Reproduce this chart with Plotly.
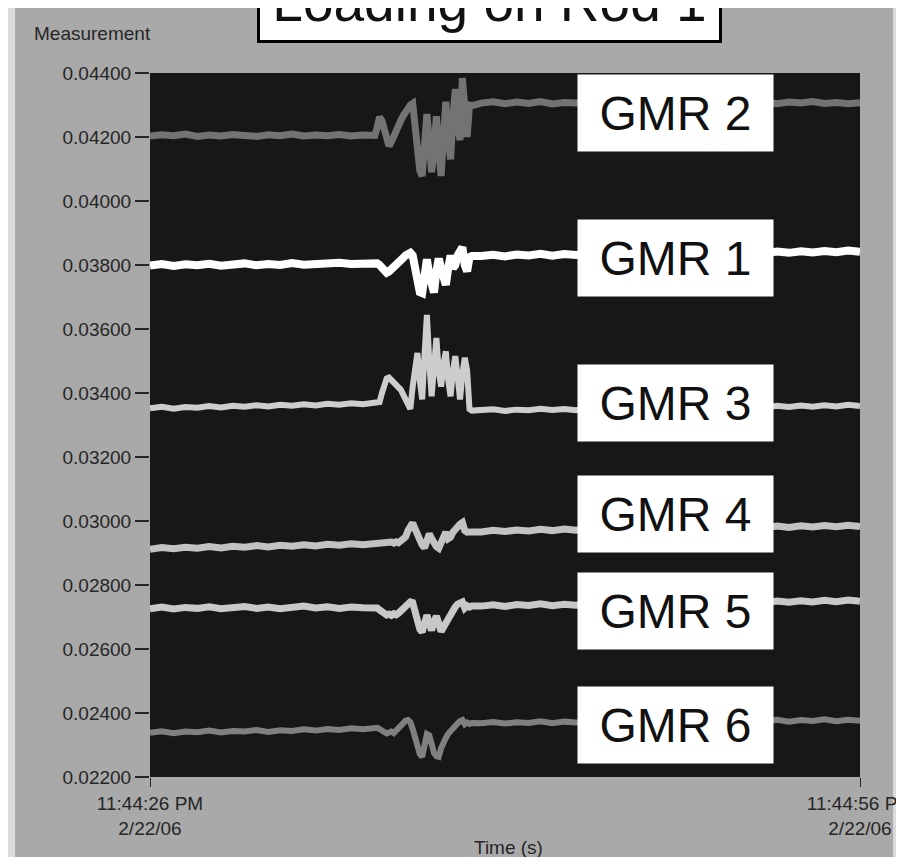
import plotly.graph_objects as go

# ---- time axis (seconds after 11:44:26 PM) ----
t_left = [0.0, 0.5, 1.0, 1.5, 2.0, 2.5, 3.0, 3.5, 4.0, 4.5, 5.0, 5.5, 6.0, 6.5, 7.0, 7.5, 8.0, 8.5, 9.0, 9.5]
t_event = [9.6, 9.7, 9.8, 9.9, 10.0, 10.1, 10.2, 10.3, 10.4, 10.5, 10.6, 10.7, 10.8, 10.9, 11.0,
           11.1, 11.2, 11.3, 11.4, 11.5, 11.6, 11.7, 11.8, 11.9, 12.0, 12.1, 12.2, 12.3, 12.4, 12.5,
           12.6, 12.7, 12.8, 12.9, 13.0, 13.1, 13.2, 13.3, 13.4, 13.5, 13.6]
t_right = [14.0, 14.5, 15.0, 15.5, 16.0, 16.5, 17.0, 17.5, 18.0, 18.5, 19.0, 19.5, 20.0, 20.5, 21.0, 21.5,
           22.0, 22.5, 23.0, 23.5, 24.0, 24.5, 25.0, 25.5, 26.0, 26.5, 27.0, 27.5, 28.0, 28.5, 29.0, 29.5, 30.0]
time_s = t_left + t_event + t_right

x_tick_vals = [0, 30]
x_tick_text = ["11:44:26 PM<br>2/22/06", "11:44:56 PM<br>2/22/06"]
y_tick_vals = [0.022, 0.024, 0.026, 0.028, 0.030, 0.032, 0.034, 0.036, 0.038, 0.040, 0.042, 0.044]
y_tick_text = ["0.02200", "0.02400", "0.02600", "0.02800", "0.03000", "0.03200",
               "0.03400", "0.03600", "0.03800", "0.04000", "0.04200", "0.04400"]

# ---- GMR 2 ----
gmr2_left = [0.04203, 0.04207, 0.04204, 0.04209, 0.04202, 0.04206, 0.04203, 0.04208, 0.04205, 0.04202,
             0.04207, 0.04204, 0.04209, 0.04203, 0.04206, 0.04204, 0.04208, 0.04203, 0.04206, 0.04205]
gmr2_event = [0.04230, 0.04262, 0.04250, 0.04222, 0.04195, 0.04172, 0.04185, 0.04205, 0.04222, 0.04238,
              0.04252, 0.04266, 0.04280, 0.04292, 0.04300, 0.04305, 0.04240, 0.04150, 0.04095, 0.04078,
              0.04180, 0.04272, 0.04190, 0.04090, 0.04160, 0.04265, 0.04160, 0.04078, 0.04200, 0.04310,
              0.04200, 0.04130, 0.04260, 0.04350, 0.04230, 0.04190, 0.04384, 0.04250, 0.04200, 0.04300,
              0.04298]
gmr2_right = [0.04306, 0.04310, 0.04304, 0.04309, 0.04305, 0.04311, 0.04303, 0.04308, 0.04306, 0.04310, 0.04304,
              0.04309, 0.04307, 0.04303, 0.04310, 0.04305, 0.04308, 0.04304, 0.04311, 0.04306, 0.04309, 0.04303,
              0.04308, 0.04305, 0.04310, 0.04304, 0.04309, 0.04306, 0.04311, 0.04305, 0.04308, 0.04304, 0.04307]

# ---- GMR 1 ----
gmr1_left = [0.03798, 0.03803, 0.03797, 0.03802, 0.03799, 0.03804, 0.03798, 0.03801, 0.03805, 0.03799,
             0.03803, 0.03800, 0.03806, 0.03801, 0.03804, 0.03802, 0.03807, 0.03803, 0.03806, 0.03804]
gmr1_event = [0.03805, 0.03800, 0.03790, 0.03778, 0.03776, 0.03780, 0.03786, 0.03792, 0.03800, 0.03808,
              0.03815, 0.03822, 0.03830, 0.03836, 0.03838, 0.03830, 0.03790, 0.03745, 0.03715, 0.03712,
              0.03770, 0.03818, 0.03770, 0.03725, 0.03714, 0.03780, 0.03820, 0.03790, 0.03745, 0.03738,
              0.03790, 0.03830, 0.03790, 0.03800, 0.03830, 0.03845, 0.03855, 0.03800, 0.03780, 0.03825,
              0.03828]
gmr1_right = [0.03828, 0.03832, 0.03827, 0.03833, 0.03830, 0.03835, 0.03829, 0.03834, 0.03831, 0.03836, 0.03830,
              0.03835, 0.03832, 0.03837, 0.03831, 0.03836, 0.03833, 0.03838, 0.03834, 0.03839, 0.03835, 0.03840,
              0.03836, 0.03841, 0.03837, 0.03842, 0.03838, 0.03843, 0.03839, 0.03844, 0.03840, 0.03845, 0.03841]

# ---- GMR 3 ----
gmr3_left = [0.03352, 0.03357, 0.03351, 0.03356, 0.03354, 0.03359, 0.03355, 0.03360, 0.03357, 0.03362,
             0.03358, 0.03363, 0.03360, 0.03365, 0.03361, 0.03366, 0.03363, 0.03368, 0.03365, 0.03369]
gmr3_event = [0.03370, 0.03372, 0.03400, 0.03430, 0.03445, 0.03448, 0.03440, 0.03432, 0.03425, 0.03420,
              0.03410, 0.03395, 0.03380, 0.03365, 0.03350, 0.03420, 0.03480, 0.03525, 0.03440, 0.03380,
              0.03520, 0.03644, 0.03500, 0.03390, 0.03480, 0.03572, 0.03470, 0.03420, 0.03490, 0.03530,
              0.03440, 0.03390, 0.03470, 0.03515, 0.03450, 0.03380, 0.03460, 0.03510, 0.03470, 0.03350,
              0.03345]
gmr3_right = [0.03345, 0.03349, 0.03344, 0.03348, 0.03346, 0.03351, 0.03347, 0.03350, 0.03346, 0.03352, 0.03348,
              0.03353, 0.03349, 0.03354, 0.03350, 0.03355, 0.03351, 0.03356, 0.03352, 0.03357, 0.03353, 0.03358,
              0.03354, 0.03359, 0.03355, 0.03360, 0.03356, 0.03361, 0.03357, 0.03362, 0.03358, 0.03363, 0.03359]

# ---- GMR 4 ----
gmr4_left = [0.02912, 0.02917, 0.02913, 0.02918, 0.02915, 0.02920, 0.02916, 0.02921, 0.02918, 0.02923,
             0.02919, 0.02924, 0.02921, 0.02926, 0.02922, 0.02927, 0.02924, 0.02929, 0.02926, 0.02930]
gmr4_event = [0.02931, 0.02928, 0.02932, 0.02929, 0.02933, 0.02930, 0.02934, 0.02931, 0.02935, 0.02932,
              0.02936, 0.02940, 0.02950, 0.02970, 0.02985, 0.02994, 0.02975, 0.02955, 0.02940, 0.02925,
              0.02916, 0.02935, 0.02960, 0.02945, 0.02930, 0.02920, 0.02915, 0.02935, 0.02955, 0.02965,
              0.02945, 0.02950, 0.02965, 0.02975, 0.02985, 0.02990, 0.02995, 0.02970, 0.02965, 0.02968,
              0.02966]
gmr4_right = [0.02966, 0.02971, 0.02967, 0.02972, 0.02969, 0.02974, 0.02970, 0.02975, 0.02971, 0.02976, 0.02972,
              0.02977, 0.02973, 0.02978, 0.02974, 0.02979, 0.02975, 0.02980, 0.02976, 0.02981, 0.02977, 0.02982,
              0.02978, 0.02983, 0.02979, 0.02984, 0.02980, 0.02985, 0.02981, 0.02986, 0.02982, 0.02987, 0.02983]

# ---- GMR 5 ----
gmr5_left = [0.02726, 0.02731, 0.02725, 0.02730, 0.02727, 0.02732, 0.02726, 0.02729, 0.02733, 0.02727,
             0.02731, 0.02726, 0.02730, 0.02734, 0.02728, 0.02732, 0.02727, 0.02731, 0.02729, 0.02730]
gmr5_event = [0.02728, 0.02722, 0.02715, 0.02708, 0.02706, 0.02709, 0.02705, 0.02710, 0.02707, 0.02712,
              0.02720, 0.02730, 0.02738, 0.02744, 0.02747, 0.02745, 0.02715, 0.02685, 0.02662, 0.02653,
              0.02680, 0.02706, 0.02680, 0.02658, 0.02685, 0.02703, 0.02680, 0.02655, 0.02668, 0.02682,
              0.02695, 0.02708, 0.02720, 0.02732, 0.02740, 0.02746, 0.02747, 0.02728, 0.02735, 0.02731,
              0.02734]
gmr5_right = [0.02734, 0.02738, 0.02733, 0.02739, 0.02736, 0.02741, 0.02735, 0.02740, 0.02737, 0.02742, 0.02738,
              0.02743, 0.02739, 0.02744, 0.02740, 0.02745, 0.02741, 0.02746, 0.02742, 0.02747, 0.02743, 0.02748,
              0.02744, 0.02749, 0.02745, 0.02750, 0.02746, 0.02751, 0.02747, 0.02752, 0.02748, 0.02753, 0.02749]

# ---- GMR 6 ----
gmr6_left = [0.02338, 0.02343, 0.02337, 0.02342, 0.02340, 0.02345, 0.02339, 0.02344, 0.02342, 0.02347,
             0.02341, 0.02346, 0.02344, 0.02349, 0.02345, 0.02350, 0.02347, 0.02352, 0.02349, 0.02353]
gmr6_event = [0.02354, 0.02350, 0.02344, 0.02338, 0.02336, 0.02339, 0.02342, 0.02337, 0.02345, 0.02355,
              0.02362, 0.02370, 0.02376, 0.02378, 0.02372, 0.02350, 0.02320, 0.02292, 0.02272, 0.02263,
              0.02300, 0.02334, 0.02330, 0.02300, 0.02275, 0.02265, 0.02263, 0.02290, 0.02310, 0.02322,
              0.02335, 0.02345, 0.02352, 0.02360, 0.02368, 0.02375, 0.02378, 0.02365, 0.02370, 0.02366,
              0.02369]
gmr6_right = [0.02368, 0.02372, 0.02367, 0.02371, 0.02369, 0.02374, 0.02368, 0.02373, 0.02370, 0.02375, 0.02369,
              0.02374, 0.02371, 0.02376, 0.02370, 0.02375, 0.02372, 0.02377, 0.02371, 0.02376, 0.02373, 0.02378,
              0.02372, 0.02377, 0.02374, 0.02379, 0.02373, 0.02378, 0.02375, 0.02380, 0.02374, 0.02379, 0.02376]

series_names = ["GMR 2", "GMR 1", "GMR 3", "GMR 4", "GMR 5", "GMR 6"]
series_values = [
    gmr2_left + gmr2_event + gmr2_right,
    gmr1_left + gmr1_event + gmr1_right,
    gmr3_left + gmr3_event + gmr3_right,
    gmr4_left + gmr4_event + gmr4_right,
    gmr5_left + gmr5_event + gmr5_right,
    gmr6_left + gmr6_event + gmr6_right,
]
series_colors = ["#737373", "#ffffff", "#cdcdcd", "#c2c2c2", "#c8c8c8", "#808080"]
series_widths = [7, 8, 6, 7, 7, 6]

# label box centres (paper y) for the sensor tags
label_y = [0.9432, 0.7379, 0.5312, 0.3736, 0.2365, 0.0739]

fig = go.Figure()
for name, vals, col, w in zip(series_names, series_values, series_colors, series_widths):
    fig.add_trace(go.Scatter(x=time_s, y=vals, mode="lines", name=name,
                             line=dict(color=col, width=w), showlegend=False,
                             hoverinfo="skip"))

TICK_FONT = dict(family="Liberation Sans, Arial", size=19, color="#262626")

# The page body has an 8px margin on every side, so the figure is 888x849
# to fit the 904x865 window without scrollbars.
fig.update_layout(
    width=888, height=849,
    margin=dict(l=142, r=36, t=65, b=80, autoexpand=False),
    paper_bgcolor="#a9a9a9",
    plot_bgcolor="#171717",
    showlegend=False,
    xaxis=dict(range=[0, 30], tickvals=x_tick_vals, ticktext=x_tick_text,
               showgrid=False, zeroline=False, showline=False, automargin=False,
               ticks="outside", ticklen=9, tickwidth=1, tickcolor="#262626",
               tickfont=TICK_FONT, ticklabeloverflow="allow"),
    yaxis=dict(range=[0.022, 0.044], tickvals=y_tick_vals, ticktext=y_tick_text,
               showgrid=False, zeroline=False, showline=False, automargin=False,
               ticks="outside", ticklen=14, tickwidth=2, tickcolor="#262626",
               tickfont=TICK_FONT),
)

# light scanner edges
fig.add_shape(type="rect", xref="paper", yref="paper", x0=-0.21, x1=-0.190, y0=-0.2, y1=1.2,
              fillcolor="#dadada", line=dict(width=0), layer="below")
fig.add_shape(type="rect", xref="paper", yref="paper", x0=1.0465, x1=1.08, y0=-0.2, y1=1.2,
              fillcolor="#dadada", line=dict(width=0), layer="below")

# sensor tags
for name, ly in zip(series_names, label_y):
    fig.add_annotation(xref="paper", yref="paper", x=0.740, y=ly, xanchor="center", yanchor="middle",
                       text=name, showarrow=False,
                       font=dict(family="Liberation Sans, Arial", size=48, color="#111111"),
                       bgcolor="#ffffff", borderpad=0, width=195, height=76)

# title box (cut off at the top of the page)
fig.add_annotation(xref="paper", yref="paper", x=0.478, y=1.0426, xanchor="center", yanchor="bottom",
                   text="Loading on Rod 1", showarrow=False,
                   font=dict(family="Liberation Sans, Arial", size=55, color="#111111"),
                   bgcolor="#ffffff", bordercolor="#000000", borderwidth=3, borderpad=0,
                   width=459, height=76, valign="middle")

# axis captions
fig.add_annotation(xref="paper", yref="paper", x=-0.0803, y=1.0554, xanchor="center", yanchor="middle",
                   text="Measurement", showarrow=False, font=TICK_FONT)
fig.add_annotation(xref="paper", yref="paper", x=0.5056, y=-0.1005, xanchor="center", yanchor="middle",
                   text="Time (s)", showarrow=False, font=TICK_FONT)

fig.write_html("out.html")
